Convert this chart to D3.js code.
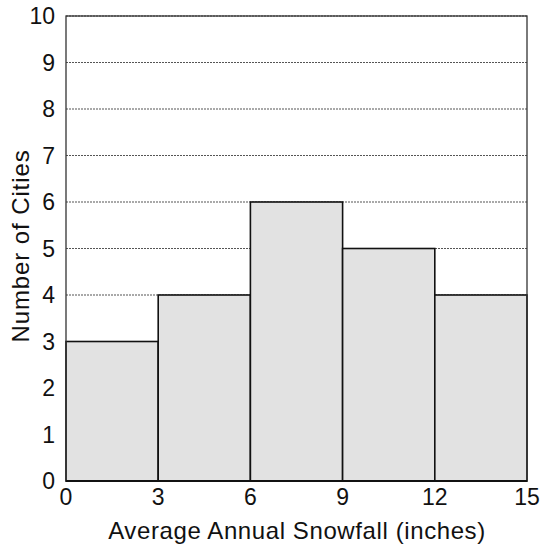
<!DOCTYPE html>
<html>
<head>
<meta charset="utf-8">
<script src="https://cdn.jsdelivr.net/npm/d3@7"></script>
<style>
  body { margin: 0; background: #fff; }
  text { font-family: "Liberation Sans", Arial, sans-serif; fill: #111; }
  .tick { font-size: 23px; }
  .axisTitle { font-size: 24px; }
</style>
</head>
<body>
<div id="chart"></div>
<script>
const width = 546;
const height = 550;

// histogram bins (inches) and counts
const binStarts = [0, 3, 6, 9, 12];
const binWidth = 3;
const counts = [3, 4, 6, 5, 4];
const xTicks = [0, 3, 6, 9, 12, 15];
const yTicks = [0, 1, 2, 3, 4, 5, 6, 7, 8, 9, 10];

const margin = { top: 16, right: 19, bottom: 69, left: 66 };

const svg = d3.select("#chart").append("svg")
   .attr("width", width)
   .attr("height", height);

const x = d3.scaleLinear()
   .domain([0, 15])
   .range([margin.left, width - margin.right]);

const y = d3.scaleLinear()
   .domain([0, 10])
   .range([height - margin.bottom, margin.top]);

// gridlines
svg.selectAll("line.grid")
   .data(yTicks.slice(1))
   .enter()
   .append("line")
   .attr("class", "grid")
   .attr("x1", x(0)).attr("x2", x(15))
   .attr("y1", d => y(d)).attr("y2", d => y(d))
   .style("stroke", "#555")
   .style("stroke-width", 1.2)
   .style("stroke-dasharray", "2,1");

// bars
svg.selectAll("rect.bar")
   .data(binStarts)
   .enter()
   .append("rect")
   .attr("class", "bar")
   .attr("x", d => x(d))
   .attr("y", (d, i) => y(counts[i]))
   .attr("width", d => x(d + binWidth) - x(d))
   .attr("height", (d, i) => y(0) - y(counts[i]))
   .style("fill", "#e2e2e2")
   .style("stroke", "#111")
   .style("stroke-width", 1.6);

// frame
svg.append("rect")
   .attr("x", x(0)).attr("y", y(10))
   .attr("width", x(15) - x(0)).attr("height", y(0) - y(10))
   .style("fill", "none")
   .style("stroke", "#333")
   .style("stroke-width", 1.3);

// bottom axis line
svg.append("line")
   .attr("x1", x(0)).attr("x2", x(15))
   .attr("y1", y(0)).attr("y2", y(0))
   .style("stroke", "#111")
   .style("stroke-width", 2);

// tick labels
svg.selectAll("text.ytick")
   .data(yTicks)
   .enter()
   .append("text")
   .attr("class", "tick")
   .attr("x", 55)
   .attr("y", d => y(d) + 8)
   .style("text-anchor", "end")
   .text(d => d);

svg.selectAll("text.xtick")
   .data(xTicks)
   .enter()
   .append("text")
   .attr("class", "tick")
   .attr("x", d => x(d))
   .attr("y", 505)
   .style("text-anchor", "middle")
   .text(d => d);

// axis titles
svg.append("text")
   .attr("class", "axisTitle")
   .attr("x", 297)
   .attr("y", 539)
   .style("text-anchor", "middle")
   .style("letter-spacing", "0.6px")
   .text("Average Annual Snowfall (inches)");

svg.append("text")
   .attr("class", "axisTitle")
   .attr("transform", "translate(29,246) rotate(-90)")
   .style("text-anchor", "middle")
   .style("letter-spacing", "0.9px")
   .text("Number of Cities");
</script>
</body>
</html>
